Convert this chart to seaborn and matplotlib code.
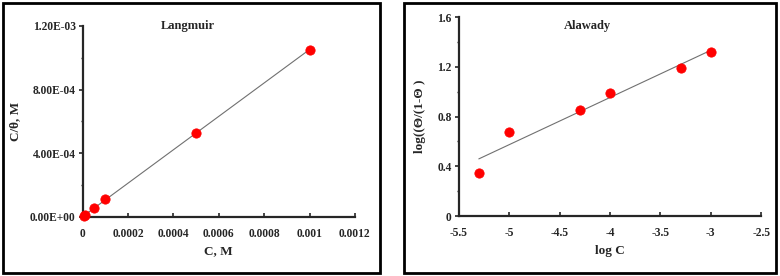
import numpy as np
import pandas as pd
import matplotlib.pyplot as plt
import seaborn as sns
from matplotlib.patches import Rectangle
from matplotlib.ticker import MultipleLocator, FuncFormatter, AutoMinorLocator

# Langmuir data
conc = [5e-6, 1e-5, 5e-5, 1e-4, 5e-4, 1e-3]
c_theta = [5.5e-6, 1.1e-5, 5.5e-5, 1.1e-4, 5.3e-4, 1.05e-3]

# Alawady data
log_c = [-5.3, -5.0, -4.3, -4.0, -3.3, -3.0]
log_ratio = [0.35, 0.68, 0.85, 0.99, 1.19, 1.32]

sns.set_style('ticks')
plt.rcParams['font.family'] = ['Liberation Serif', 'DejaVu Serif']
plt.rcParams['font.weight'] = 'bold'

fig = plt.figure(figsize=(7.8, 2.76), dpi=100)

# panel borders
fig.patches.append(Rectangle((3/780, 3/276), 377/780, 270/276, transform=fig.transFigure,
                             fill=False, edgecolor='black', linewidth=2))
fig.patches.append(Rectangle((404/780, 3/276), 372/780, 270/276, transform=fig.transFigure,
                             fill=False, edgecolor='black', linewidth=2))

ax1 = fig.add_axes([0.106, 0.214, 0.349, 0.692])
ax2 = fig.add_axes([0.588, 0.217, 0.388, 0.721])

df1 = pd.DataFrame({'C': conc, 'CT': c_theta})
df2 = pd.DataFrame({'x': log_c, 'y': log_ratio})

# fit lines
p1 = np.polyfit(conc, c_theta, 1)
xf1 = np.array([0, max(conc)])
ax1.plot(xf1, np.polyval(p1, xf1), color='#707070', linewidth=0.8, zorder=1)
p2 = np.polyfit(log_c, log_ratio, 1)
xf2 = np.array([min(log_c), max(log_c)])
ax2.plot(xf2, np.polyval(p2, xf2), color='#707070', linewidth=0.8, zorder=1)

sns.scatterplot(data=df1, x='C', y='CT', ax=ax1, color='red', s=45, edgecolor='red', zorder=3, clip_on=False)
sns.scatterplot(data=df2, x='x', y='y', ax=ax2, color='red', s=45, edgecolor='red', zorder=3, clip_on=False)

ax1.set_xlim(0, 0.0012)
ax1.set_ylim(0, 1.2e-3)
ax1.xaxis.set_major_locator(MultipleLocator(0.0002))
ax1.yaxis.set_major_locator(MultipleLocator(4e-4))
ax1.xaxis.set_major_formatter(FuncFormatter(lambda v, p: '{:g}'.format(round(v, 6))))
ax1.yaxis.set_major_formatter(FuncFormatter(lambda v, p: '%.2E' % v))
ax1.set_xlabel('C, M', fontsize=9.5, fontweight='bold', labelpad=4)
ax1.set_ylabel('C/θ, M', fontsize=9.5, fontweight='bold', labelpad=6)
ax1.text(0.386, 1.0, 'Langmuir', transform=ax1.transAxes, ha='center', va='center',
         fontsize=9, fontweight='bold')

ax2.set_xlim(-5.5, -2.5)
ax2.set_ylim(0, 1.6)
ax2.xaxis.set_major_locator(MultipleLocator(0.5))
ax2.yaxis.set_major_locator(MultipleLocator(0.4))
ax2.xaxis.set_major_formatter(FuncFormatter(lambda v, p: '{:g}'.format(round(v, 2))))
ax2.yaxis.set_major_formatter(FuncFormatter(lambda v, p: '{:g}'.format(round(v, 2))))
ax2.set_xlabel('log C', fontsize=9.5, fontweight='bold', labelpad=4)
ax2.set_ylabel('log((Θ/(1-Θ )', fontsize=9.5, fontweight='bold', labelpad=8)
ax2.text(0.427, 0.955, 'Alawady', transform=ax2.transAxes, ha='center', va='center',
         fontsize=9, fontweight='bold')

for ax in (ax1, ax2):
    sns.despine(ax=ax)
    ax.spines['left'].set_linewidth(1.6)
    ax.spines['bottom'].set_linewidth(1.6)
    ax.yaxis.set_minor_locator(AutoMinorLocator(2))
    ax.tick_params(axis='x', direction='in', length=3, width=1.2, labelsize=8.3, pad=8)
    ax.tick_params(axis='y', which='major', direction='out', length=3, width=1.2, labelsize=8.3, pad=2)
    ax.tick_params(axis='y', which='minor', direction='out', length=1.5, width=1)
    for lab in ax.get_xticklabels() + ax.get_yticklabels():
        lab.set_fontweight('bold')

fig.savefig('out.png', dpi=100)
